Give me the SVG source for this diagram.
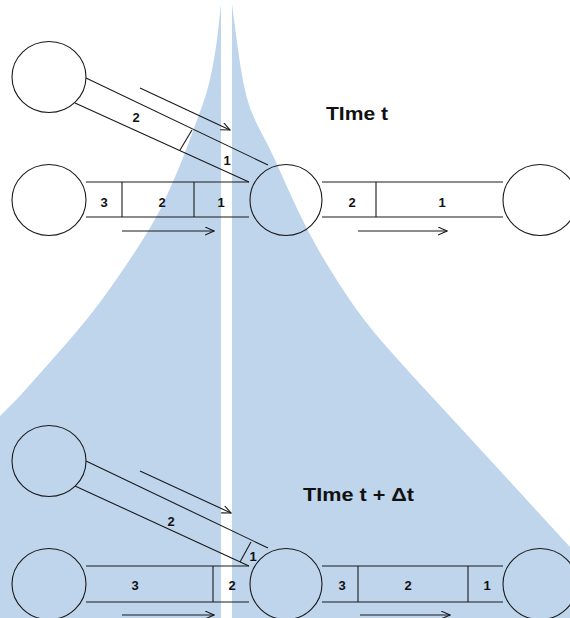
<svg xmlns="http://www.w3.org/2000/svg" width="570" height="618" viewBox="0 0 570 618">
<style>
.bg{fill:#bed5ec;stroke:none}
.node{fill:none;stroke:#1a1a1a;stroke-width:1.1}
.ln{fill:none;stroke:#1a1a1a;stroke-width:1.1}
.num{font-family:"Liberation Sans",Arial,sans-serif;font-weight:bold;font-size:13px;fill:#111;text-anchor:middle}
.title{font-family:"Liberation Sans",Arial,sans-serif;font-weight:bold;font-size:19px;fill:#111}
</style>
<defs>
<marker id="ah" markerWidth="10" markerHeight="10" refX="9" refY="4" orient="auto" markerUnits="userSpaceOnUse">
<path d="M0,0 L9,4 L0,8" fill="none" stroke="#1a1a1a" stroke-width="1.1"/>
</marker>
</defs>
<rect width="570" height="618" fill="#ffffff"/>
<g id="background">
<path class="bg" d="M221,4 L218.5,27 Q216,50 212,70 Q208,90 202.5,105 Q197,120 191,136.5 Q185,153 179,167.5 Q173,182 165,199.5 Q157,217 143.5,238.5 Q130,260 110,288.5 Q90,317 62,348.5 Q36,378 18,398 L0,416 L0,618 L221,618 Z"/>
<path class="bg" d="M232,4 L235,27 Q238,50 240.5,66.5 Q243,83 246.5,96.5 Q250,110 255.5,121 Q261,132 267,143.5 Q273,155 280,171 Q287,187 297,208.5 Q307,230 318.5,250 Q330,270 346.5,295 Q363,320 385,345 Q407,370 427,391.5 Q447,413 508.5,480 L570,547 L570,618 L232,618 Z"/>
</g>
<g id="connectors">
<line class="ln" x1="86" y1="78" x2="268" y2="165"/>
<line class="ln" x1="75" y1="103" x2="249" y2="182"/>
<line class="ln" x1="180" y1="150" x2="192" y2="130"/>
<line class="ln" x1="86" y1="182" x2="249" y2="182"/>
<line class="ln" x1="86" y1="217" x2="249" y2="217"/>
<line class="ln" x1="122" y1="182" x2="122" y2="217"/>
<line class="ln" x1="194" y1="182" x2="194" y2="217"/>
<line class="ln" x1="322" y1="182" x2="503" y2="182"/>
<line class="ln" x1="322" y1="217" x2="503" y2="217"/>
<line class="ln" x1="376" y1="182" x2="376" y2="217"/>
<line class="ln" x1="140" y1="88" x2="230" y2="130" marker-end="url(#ah)"/>
<line class="ln" x1="122" y1="231" x2="214" y2="231" marker-end="url(#ah)"/>
<line class="ln" x1="358" y1="231" x2="447" y2="231" marker-end="url(#ah)"/>
<line class="ln" x1="86" y1="461" x2="268" y2="548"/>
<line class="ln" x1="75" y1="486" x2="249" y2="566"/>
<line class="ln" x1="240" y1="562" x2="251" y2="542"/>
<line class="ln" x1="86" y1="566" x2="249" y2="566"/>
<line class="ln" x1="86" y1="602" x2="249" y2="602"/>
<line class="ln" x1="213" y1="566" x2="213" y2="602"/>
<line class="ln" x1="322" y1="566" x2="503" y2="566"/>
<line class="ln" x1="322" y1="602" x2="503" y2="602"/>
<line class="ln" x1="358" y1="566" x2="358" y2="602"/>
<line class="ln" x1="468" y1="566" x2="468" y2="602"/>
<line class="ln" x1="140" y1="471" x2="231" y2="513" marker-end="url(#ah)"/>
<line class="ln" x1="122" y1="615" x2="214" y2="615" marker-end="url(#ah)"/>
<line class="ln" x1="360" y1="615" x2="450" y2="615" marker-end="url(#ah)"/>
</g>
<g id="node-t-a"><ellipse class="node" cx="49" cy="77" rx="37" ry="35.5"/></g>
<g id="node-t-b"><ellipse class="node" cx="49" cy="200" rx="37" ry="35.5"/></g>
<g id="node-t-c"><ellipse class="node" cx="286" cy="200" rx="36" ry="35.5"/></g>
<g id="node-t-d"><ellipse class="node" cx="540" cy="200" rx="37" ry="35.5"/></g>
<g id="node-dt-a"><ellipse class="node" cx="49" cy="461" rx="37" ry="35.5"/></g>
<g id="node-dt-b"><ellipse class="node" cx="49" cy="584" rx="37" ry="35.5"/></g>
<g id="node-dt-c"><ellipse class="node" cx="286" cy="584" rx="36" ry="35.5"/></g>
<g id="node-dt-d"><ellipse class="node" cx="540" cy="584" rx="37" ry="35.5"/></g>
<g id="labels">
<text class="num" x="136" y="122">2</text>
<text class="num" x="227" y="165">1</text>
<text class="num" x="104" y="207">3</text>
<text class="num" x="162" y="207">2</text>
<text class="num" x="221" y="207">1</text>
<text class="num" x="352" y="207">2</text>
<text class="num" x="442" y="207">1</text>
<text class="num" x="171" y="526">2</text>
<text class="num" x="253" y="561">1</text>
<text class="num" x="135" y="590">3</text>
<text class="num" x="232" y="590">2</text>
<text class="num" x="342" y="590">3</text>
<text class="num" x="408" y="590">2</text>
<text class="num" x="487" y="590">1</text>
<text class="title" x="326" y="120" textLength="62" lengthAdjust="spacingAndGlyphs">TIme t</text>
<text class="title" x="303" y="501" textLength="111" lengthAdjust="spacingAndGlyphs">TIme t + Δt</text>
</g>
</svg>
